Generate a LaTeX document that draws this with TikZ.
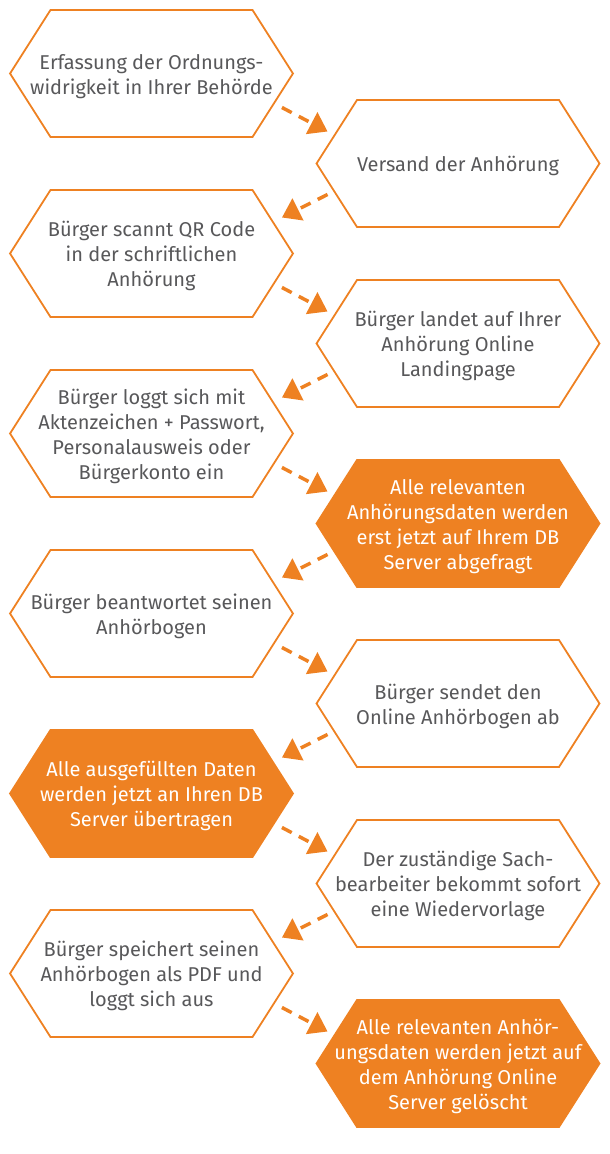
\documentclass[tikz,border=0pt]{standalone}
\usepackage{fontspec}
\setmainfont{Fira Sans}
\usepackage{xcolor}
\usetikzlibrary{shapes.symbols,arrows.meta,positioning,calc}

\definecolor{flowOrange}{HTML}{EE8122}
\definecolor{flowGray}{HTML}{58585A}

% centred lines, all boxes get the same body width
\newcommand{\hexlines}[1]{\makebox[202pt]{\raisebox{-3pt}[\height][\depth]{\begin{tabular}{@{}c@{}}#1\end{tabular}}}}

\tikzset{
  hexbox/.style={shape=signal, signal to=east and west, signal pointer angle=115,
    draw=flowOrange, line width=1.8pt, minimum height=127pt,
    inner sep=0pt, outer sep=0pt, text=flowGray,
    font=\fontsize{20}{25}\selectfont},
  hexfill/.style={hexbox, fill=flowOrange, text=white},
  flow/.style={draw=flowOrange, line width=3.5pt, dash pattern=on 11pt off 8pt,
    -{Triangle[length=18pt,width=24pt]}}
}

\begin{document}
\begin{tikzpicture}[x=1pt, y=1pt]
    \useasboundingbox (0,0) rectangle (610,-1154);
    % Left column
    \node [hexbox] (S1) at (151.5,-73.5) {\hexlines{Erfassung der Ordnungs-\\widrigkeit in Ihrer Behörde}};
    \node [hexbox, below=53pt of S1] (S3) {\hexlines{Bürger scannt QR Code\\in der schriftlichen\\Anhörung}};
    \node [hexbox, below=53pt of S3] (S5) {\hexlines{Bürger loggt sich mit\\Aktenzeichen + Passwort,\\Personalausweis oder\\Bürgerkonto ein}};
    \node [hexbox, below=53pt of S5] (S7) {\hexlines{Bürger beantwortet seinen\\Anhörbogen}};
    \node [hexfill, below=53pt of S7] (S9) {\hexlines{Alle ausgefüllten Daten\\werden jetzt an Ihren DB\\Server übertragen}};
    \node [hexbox, below=53pt of S9] (S11) {\hexlines{Bürger speichert seinen\\Anhörbogen als PDF und\\loggt sich aus}};
    % Right column
    \node [hexbox] (S2) at (458,-163.5) {\hexlines{Versand der Anhörung}};
    \node [hexbox, below=53pt of S2] (S4) {\hexlines{Bürger landet auf Ihrer\\Anhörung Online\\Landingpage}};
    \node [hexfill, below=53pt of S4] (S6) {\hexlines{Alle relevanten\\Anhörungsdaten werden\\erst jetzt auf Ihrem DB\\Server abgefragt}};
    \node [hexbox, below=53pt of S6] (S8) {\hexlines{Bürger sendet den\\Online Anhörbogen ab}};
    \node [hexbox, below=53pt of S8] (S10) {\hexlines{Der zuständige Sach-\\bearbeiter bekommt sofort\\eine Wiedervorlage}};
    \node [hexfill, below=53pt of S10] (S12) {\hexlines{Alle relevanten Anhör-\\ungsdaten werden jetzt auf\\dem Anhörung Online\\Server gelöscht}};
    % Left to right
    \draw [flow] ($(S1.east)+(-11,-34)$) -- ($(S2.west)+(11,32)$);
    \draw [flow] ($(S3.east)+(-11,-34)$) -- ($(S4.west)+(11,32)$);
    \draw [flow] ($(S5.east)+(-11,-34)$) -- ($(S6.west)+(11,32)$);
    \draw [flow] ($(S7.east)+(-11,-34)$) -- ($(S8.west)+(11,32)$);
    \draw [flow] ($(S9.east)+(-11,-34)$) -- ($(S10.west)+(11,32)$);
    \draw [flow] ($(S11.east)+(-11,-34)$) -- ($(S12.west)+(11,32)$);
    % Right to left
    \draw [flow] ($(S2.west)+(11,-31)$) -- ($(S3.east)+(-11,36)$);
    \draw [flow] ($(S4.west)+(11,-31)$) -- ($(S5.east)+(-11,36)$);
    \draw [flow] ($(S6.west)+(11,-31)$) -- ($(S7.east)+(-11,36)$);
    \draw [flow] ($(S8.west)+(11,-31)$) -- ($(S9.east)+(-11,36)$);
    \draw [flow] ($(S10.west)+(11,-31)$) -- ($(S11.east)+(-11,36)$);
\end{tikzpicture}
\end{document}
